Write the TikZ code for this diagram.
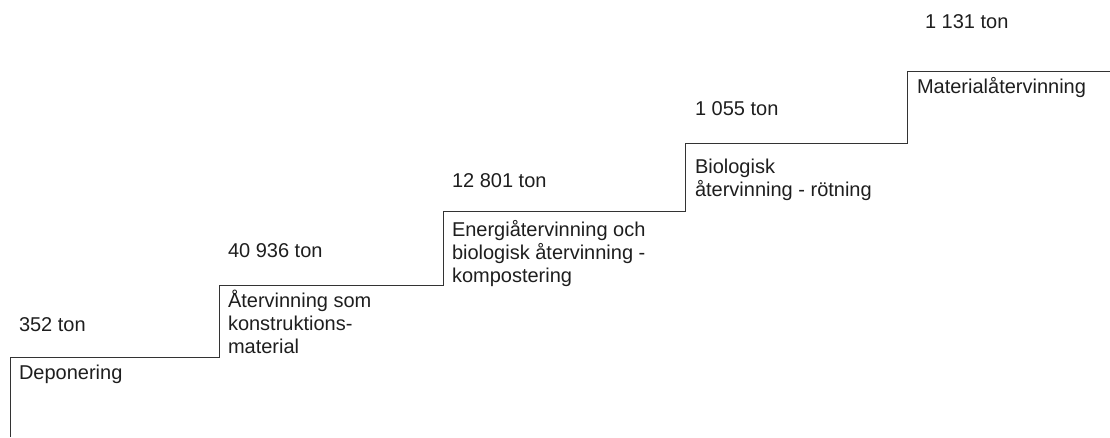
\documentclass[tikz,border=0pt]{standalone}
\usepackage{fontspec}
\setmainfont{Liberation Sans}
\definecolor{ink}{HTML}{1E1E1E}
\definecolor{stair}{HTML}{333333}
\tikzset{
  lbl/.style={anchor=base west, inner sep=0pt, outer sep=0pt, text=ink,
    font=\fontsize{20}{23}\selectfont},
  stairline/.style={draw=stair, line width=1pt}
}
\newcommand{\ml}[1]{\begin{tabular}[t]{@{}l@{}}#1\end{tabular}}
\begin{document}
\begin{tikzpicture}[x=1pt,y=-1pt]
\useasboundingbox (0,0) rectangle (1110,437);
\coordinate (s0) at (10,437);
\coordinate (s1) at (10,357);
\coordinate (s2) at (219,357);
\coordinate (s3) at (219,285);
\coordinate (s4) at (443,285);
\coordinate (s5) at (443,211);
\coordinate (s6) at (685,211);
\coordinate (s7) at (685,143);
\coordinate (s8) at (907,143);
\coordinate (s9) at (907,71);
\coordinate (s10) at (1110,71);
\draw[stairline] (s0) -- (s1) -- (s2) -- (s3) -- (s4) -- (s5) -- (s6) -- (s7) -- (s8) -- (s9) -- (s10);

\node[lbl] (t1) at (19,331) {352 ton};
\node[lbl] (n1) at (19,379) {Deponering};
\node[lbl] (t2) at (228,257) {40 936 ton};
\node[lbl] (n2) at (228,307) {\ml{Återvinning som\\konstruktions-\\material}};
\node[lbl] (t3) at (452,187) {12 801 ton};
\node[lbl] (n3) at (452,236) {\ml{Energiåtervinning och\\biologisk återvinning -\\kompostering}};
\node[lbl] (t4) at (695,115) {1 055 ton};
\node[lbl] (n4) at (695,173) {\ml{Biologisk\\återvinning - rötning}};
\node[lbl] (t5) at (925,28) {1 131 ton};
\node[lbl] (n5) at (917,93) {Materialåtervinning};
\end{tikzpicture}
\end{document}
